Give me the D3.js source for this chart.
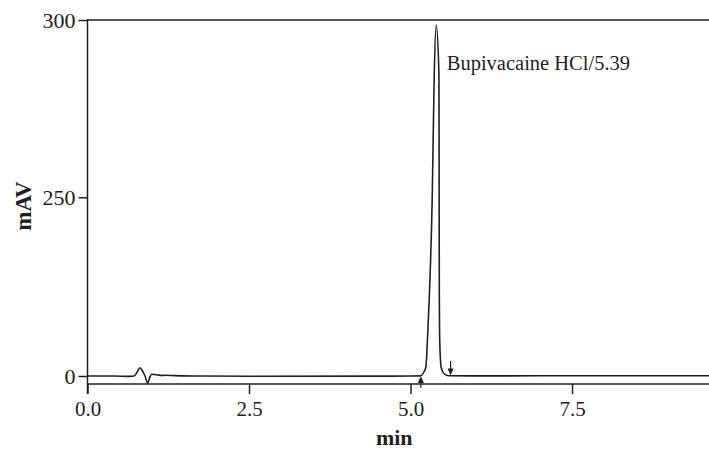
<!DOCTYPE html>
<html>
<head>
<meta charset="utf-8">
<script src="https://cdn.jsdelivr.net/npm/d3@7"></script>
<style>
  html, body { margin: 0; padding: 0; background: #fff; }
  svg { display: block; }
  svg text { font-family: "Liberation Serif", "Times New Roman", Tinos, Times, "DejaVu Serif", serif !important; fill: #231f20; }
</style>
</head>
<body>
<svg id="chart" width="709" height="450"></svg>
<script>
// ---- data (time in min, signal in mAV) ----
const times = [0, 0.4, 0.658, 0.72, 0.766, 0.812, 0.844, 0.89, 0.932, 0.96, 0.993, 1.09, 1.15, 1.21, 1.35, 1.74, 2.5, 4.5, 5.0, 5.145,
  5.176, 5.207, 5.238, 5.265, 5.289, 5.336, 5.367, 5.398, 5.440, 5.443, 5.446, 5.450, 5.473, 5.50, 5.54, 5.60, 6.0, 8.0, 9.62];
const signal = [0, 0, -0.5, 0, 5, 11.6, 8, 0, -10, -3, 2.4, 1.5, 0.8, 1.0, 0.5, 0, -0.4, -0.2, 0, 0.2,
  1.4, 5.6, 12.6, 57.4, 106.3, 250, 284.5, 298.6, 284.5, 250, 106, 57, 12.6, 5.6, 2, 0.3, 0.2, 0.3, 0.3];
const yTicks = [0, 250, 300];
const yTickLabels = ["0", "250", "300"];
const xTicks = [0, 2.5, 5.0, 7.5];
const xTickLabels = ["0.0", "2.5", "5.0", "7.5"];
const peakLabel = "Bupivacaine HCl/5.39";
const peakTime = 5.398, peakValue = 298.6;
const peakStart = 5.16, peakEnd = 5.62;
const xTitle = "min", yTitle = "mAV";

const svg = d3.select("#chart");
const ink = "#231f20";
const serif = '"Liberation Serif", "Times New Roman", Tinos, Times, "DejaVu Serif", serif';
const mLeft = 87.5, mRight = 709, mTop = 20, mBottom = 384;

const x = d3.scaleLinear().domain([0, 9.62]).range([mLeft, mRight]);
// axis as drawn in the reference: equal spacing between 0-250 and 250-300
const y = d3.scaleLinear().domain([0, 250, 300]).range([376, 197.3, mTop]);

// frame: top line, left axis, bottom axis
svg.append("line").attr("x1", mLeft).attr("x2", mRight).attr("y1", mTop).attr("y2", mTop)
  .attr("stroke", ink).attr("stroke-width", 1.5);
svg.append("line").attr("x1", mLeft).attr("x2", mLeft).attr("y1", mTop - 0.75).attr("y2", 394)
  .attr("stroke", ink).attr("stroke-width", 1.5);
svg.append("line").attr("x1", mLeft).attr("x2", mRight).attr("y1", mBottom).attr("y2", mBottom)
  .attr("stroke", ink).attr("stroke-width", 1.5);

// x axis
const xAxis = svg.append("g").attr("transform", `translate(0,${mBottom})`)
  .attr("font-family", serif)
  .call(d3.axisBottom(x).tickValues(xTicks).tickSize(10).tickPadding(7)
    .tickFormat((d, i) => xTickLabels[i]));
xAxis.attr("font-family", serif);
xAxis.select(".domain").remove();
xAxis.selectAll("line").attr("stroke", ink).attr("stroke-width", 1.5);
xAxis.selectAll("text").attr("font-size", 21).attr("fill", ink).style("font-family", serif);

// y axis
const yAxis = svg.append("g").attr("transform", `translate(${mLeft},0)`)
  .call(d3.axisLeft(y).tickValues(yTicks).tickSize(9).tickPadding(3)
    .tickFormat((d, i) => yTickLabels[i]));
yAxis.attr("font-family", serif);
yAxis.select(".domain").remove();
yAxis.selectAll("line").attr("stroke", ink).attr("stroke-width", 1.5);
yAxis.selectAll("text").attr("font-size", 22).attr("fill", ink).style("font-family", serif);

// axis titles
svg.append("text").attr("x", (x(0) + x(9.62)) / 2 - 4).attr("y", 445)
  .attr("text-anchor", "middle").attr("font-size", 22).attr("font-weight", "bold")
  .style("font-family", serif).text(xTitle);
svg.append("text").attr("transform", `translate(31,206) rotate(-90)`)
  .attr("text-anchor", "middle").attr("font-size", 23).attr("font-weight", "bold")
  .style("font-family", serif).text(yTitle);

// trace
const data = times.map((t, i) => [t, signal[i]]);
svg.append("path").datum(data)
  .attr("fill", "none").attr("stroke", ink).attr("stroke-width", 1.6)
  .attr("stroke-linejoin", "round")
  .attr("d", d3.line().x(d => x(d[0])).y(d => y(d[1])).curve(d3.curveMonotoneX));

// integration markers (arrows)
function arrow(t, y0, y1) {
  const xx = x(t);
  const dir = Math.sign(y1 - y0);
  svg.append("line").attr("x1", xx).attr("x2", xx).attr("y1", y0).attr("y2", y1 - dir * 4)
    .attr("stroke", ink).attr("stroke-width", 1.2);
  svg.append("path")
    .attr("d", `M${xx},${y1} L${xx - 3},${y1 - dir * 7} L${xx + 3},${y1 - dir * 7} Z`)
    .attr("fill", ink);
}
arrow(peakStart, 388, y(0));
arrow(peakEnd, 361, y(0) - 0.5);

// peak label
svg.append("text").attr("x", x(peakTime) + 10.5).attr("y", y(peakValue) + 45)
  .attr("font-size", 20.5).style("font-family", serif).text(peakLabel);
</script>
</body>
</html>
